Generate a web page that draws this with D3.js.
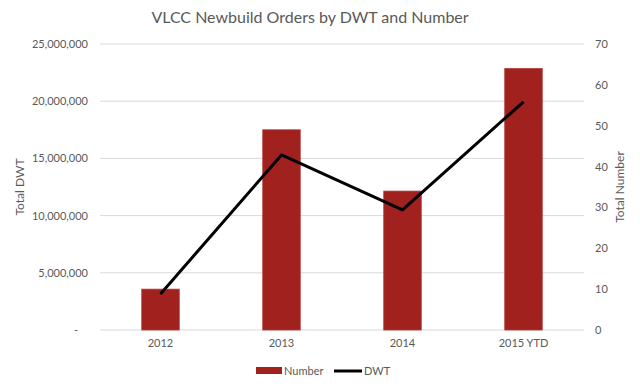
<!DOCTYPE html>
<html>
<head>
<meta charset="utf-8">
<script src="https://cdn.jsdelivr.net/npm/d3@7"></script>
<style>
  body { margin: 0; background: #fff; }
  text { font-family: Lato, "Open Sans", sans-serif; fill: #595959; }
</style>
</head>
<body>
<div id="chart"></div>
<script>
// chart data
var years   = ["2012", "2013", "2014", "2015 YTD"];
var numbers = [10, 49, 34, 64];
var dwt     = [3150000, 15300000, 10500000, 19950000];
var dwtTicks = [0, 5000000, 10000000, 15000000, 20000000, 25000000];
var numTicks = [0, 10, 20, 30, 40, 50, 60, 70];

var W = 640, H = 388;
var m = { left: 100, right: 56, top: 44, bottom: 58 };

var svg = d3.select("#chart").append("svg")
  .attr("width", W).attr("height", H);

var x = d3.scaleBand().domain(years).range([m.left, W - m.right]).paddingInner(0.69).paddingOuter(0.345);
var yL = d3.scaleLinear().domain([0, 25000000]).range([H - m.bottom, m.top]);
var yR = d3.scaleLinear().domain([0, 70]).range([H - m.bottom, m.top]);

// gridlines
svg.append("g").selectAll("line").data(dwtTicks).enter().append("line")
  .attr("x1", m.left).attr("x2", W - m.right)
  .attr("y1", function(d) { return yL(d); }).attr("y2", function(d) { return yL(d); })
  .attr("stroke", "#d9d9d9").attr("stroke-width", 1);

// left axis
var fmt = d3.format(",");
var la = svg.append("g").attr("transform", "translate(" + (m.left - 12) + ",0)")
  .call(d3.axisLeft(yL).tickValues(dwtTicks).tickSize(0).tickPadding(0)
    .tickFormat(function(d) { return d === 0 ? "-" : fmt(d); }));
la.select(".domain").remove();
la.selectAll("text").style("font-size", "11px").style("fill", "#595959")
  .style("font-family", "Lato, 'Open Sans', sans-serif")
  .attr("dx", function(d) { return d === 0 ? -10 : 0; });

// right axis
var ra = svg.append("g").attr("transform", "translate(" + (W - m.right + 11) + ",0)")
  .call(d3.axisRight(yR).tickValues(numTicks).tickSize(0).tickPadding(0));
ra.select(".domain").remove();
ra.selectAll("text").style("font-size", "11px").style("fill", "#595959")
  .style("font-family", "Lato, 'Open Sans', sans-serif");

// x axis labels
var xa = svg.append("g").attr("transform", "translate(0," + (H - m.bottom + 9) + ")")
  .call(d3.axisBottom(x).tickSize(0).tickPadding(0));
xa.select(".domain").remove();
xa.selectAll("text").style("font-size", "11px").style("fill", "#595959")
  .style("font-family", "Lato, 'Open Sans', sans-serif");

// bars
svg.append("g").selectAll("rect").data(numbers).enter().append("rect")
  .attr("x", function(d, i) { return x(years[i]); })
  .attr("width", x.bandwidth())
  .attr("y", function(d) { return yR(d); })
  .attr("height", function(d) { return yR(0) - yR(d); })
  .attr("fill", "#a0211e").attr("stroke", "#b23a37").attr("stroke-width", 0.8);

// line
var line = d3.line()
  .x(function(d, i) { return x(years[i]) + x.bandwidth() / 2; })
  .y(function(d) { return yL(d); });
svg.append("path").datum(dwt).attr("d", line)
  .attr("fill", "none").attr("stroke", "#000").attr("stroke-width", 3)
  .attr("stroke-linejoin", "round");

// title
svg.append("text").attr("x", 310).attr("y", 23).attr("text-anchor", "middle")
  .style("font-size", "16px").text("VLCC Newbuild Orders by DWT and Number");

// axis titles
svg.append("text").attr("transform", "translate(24,187) rotate(-90)")
  .attr("text-anchor", "middle").style("font-size", "12px").text("Total DWT");
svg.append("text").attr("transform", "translate(624,187) rotate(-90)")
  .attr("text-anchor", "middle").style("font-size", "12px").text("Total Number");

// legend
var lg = svg.append("g");
lg.append("rect").attr("x", 256).attr("y", 367).attr("width", 26).attr("height", 7).attr("fill", "#a0211e");
lg.append("text").attr("x", 284).attr("y", 375).style("font-size", "11px").text("Number");
lg.append("line").attr("x1", 334).attr("x2", 362).attr("y1", 371).attr("y2", 371)
  .attr("stroke", "#000").attr("stroke-width", 3);
lg.append("text").attr("x", 364).attr("y", 375).style("font-size", "11px").text("DWT");
</script>
</body>
</html>
